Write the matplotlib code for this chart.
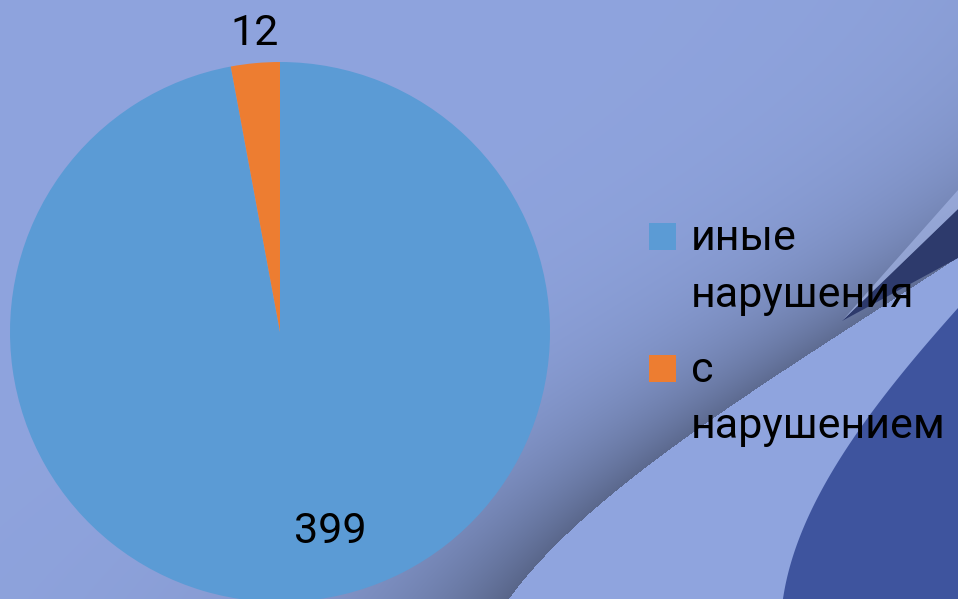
import numpy as np
import matplotlib.pyplot as plt
from matplotlib.patches import Rectangle, Polygon

plt.rcParams['font.family'] = ['Roboto', 'DejaVu Sans']

# chart data
labels = ['иные\nнарушения', 'с\nнарушением']
values = [399, 12]
colors = ['#5b9bd5', '#ed7d31']

W, H = 958, 599
fig = plt.figure(figsize=(W / 100, H / 100), dpi=100)

# ---- slide background: periwinkle with a shaded swoosh on the right ----
base = np.array([143, 164, 222]) / 255
yy, xx = np.mgrid[0:H, 0:W] + 0.5

# upper edge of the light swoosh band (pixel coords, y down)
edge1_y = [200, 257, 323, 387, 407, 443, 480, 520, 560, 599, 620]
edge1_x = [1045, 958, 850, 767, 730, 680, 630, 580, 537, 510, 497]
# left edge of the dark blue shape in the corner
edge2_y = [250, 307, 360, 400, 450, 483, 533, 599, 620]
edge2_x = [1010, 958, 912, 880, 845, 825, 800, 783, 780]

fit1 = np.polyfit(edge1_y, edge1_x, 3)
fit2 = np.polyfit(edge2_y, edge2_x, 3)

d = np.polyval(fit1, yy) - xx
shade = np.where(d > 0, 0.38 * np.exp(-d / 140.0), 0.0)
shade *= 0.75 + 0.25 * (yy / H)
bg = base[None, None, :] * (1 - shade[..., None])

ax_bg = fig.add_axes([0, 0, 1, 1])
ax_bg.imshow(bg, extent=(0, W, H, 0), interpolation='bilinear')
ys = np.linspace(240, 610, 300)
ax_bg.fill_betweenx(ys, np.polyval(fit2, ys), W + 10, color='#3e549e', lw=0)
# thin navy sliver riding on top of the band, with a pale highlight above it
ax_bg.add_patch(Polygon([(958, 209), (958, 258), (842, 321)],
                        closed=True, color='#2d3a6c', lw=0))
ax_bg.add_patch(Polygon([(958, 190), (958, 209), (842, 321)],
                        closed=True, color='#a3b4e4', lw=0, alpha=0.7))
ax_bg.set_xlim(0, W)
ax_bg.set_ylim(H, 0)
ax_bg.axis('off')

# ---- pie ----
ax = fig.add_axes([10 / W, (H - 602) / H, 540 / W, 540 / H])
wedges, _ = ax.pie(values, colors=colors, startangle=90, counterclock=False,
                   radius=1, wedgeprops=dict(linewidth=0))
ax.set_xlim(-1, 1)
ax.set_ylim(-1, 1)
ax.set_aspect('equal')
ax.axis('off')

label_pos = [(0.185, -0.781), (-0.093, 1.063)]
for v, (lx, ly) in zip(values, label_pos):
    t = ax.text(lx, ly, str(v), ha='center', va='baseline', fontsize=31,
                color='black')
    t.set_clip_on(False)

# ---- legend ----
sq = 27
box_top = [223, 355]
line_base = [[250, 307], [382, 438]]
for lab, col, top, bases in zip(labels, colors, box_top, line_base):
    fig.patches.append(Rectangle((649 / W, (H - top - sq) / H), sq / W, sq / H,
                                 transform=fig.transFigure, color=col, lw=0))
    for line, b in zip(lab.split('\n'), bases):
        fig.text(691 / W, (H - b) / H, line, ha='left', va='baseline',
                 fontsize=31, color='black')

fig.savefig('out.png', dpi=100)
